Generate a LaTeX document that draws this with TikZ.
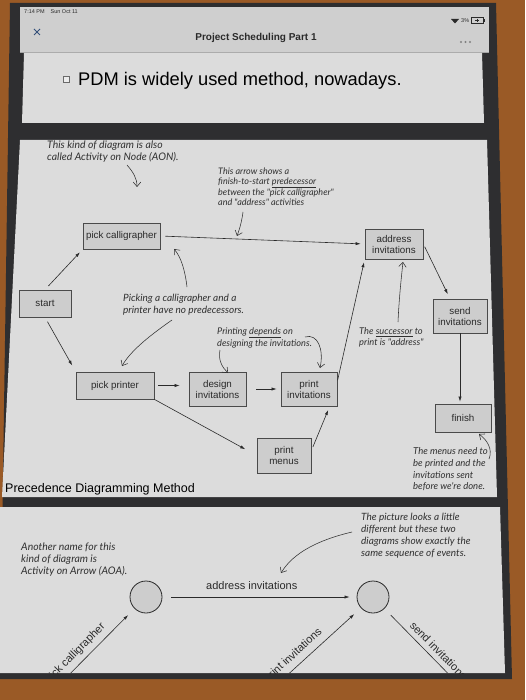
\documentclass[tikz,border=0pt]{standalone}
\usepackage{fontspec}
\setmainfont{Liberation Sans}
\newfontfamily\handfont{Lato}
\usetikzlibrary{arrows.meta}
\definecolor{frame}{HTML}{9A5A26}
\definecolor{bezel}{HTML}{2E2E30}
\definecolor{bar}{HTML}{CFCFCF}
\definecolor{slide}{HTML}{DCDCDC}
\definecolor{boxfill}{HTML}{CDCDCD}
\definecolor{boxline}{HTML}{4A4A4A}
\definecolor{ink}{HTML}{2A2A2A}
\definecolor{pen}{HTML}{303030}
\definecolor{xblue}{HTML}{34507A}
\newcommand{\handsize}[2]{\handfont\itshape\fontsize{#1}{#2}\selectfont}
\begin{document}
\begin{tikzpicture}[x=1pt,y=-1pt,
  box/.style={draw=boxline, fill=boxfill, line width=0.7pt, text=ink, align=center, inner sep=0pt, font=\fontsize{9.8}{11}\selectfont},
  flow/.style={draw=ink, line width=0.6pt, -{Latex[length=5pt,width=3.2pt]}},
  note/.style={text=pen, align=left, inner sep=0pt, anchor=north west},
  pointer/.style={draw=pen, line width=0.55pt, -{Straight Barb[length=4.5pt,width=7.5pt]}},
  event/.style={circle, draw=ink, fill=boxfill, line width=0.8pt, minimum size=32pt, inner sep=0pt},
  actlabel/.style={text=ink, font=\fontsize{11}{13}\selectfont, inner sep=2pt},
]
\useasboundingbox (0,0) rectangle (525,700);
% photo frame and screen
\fill[frame] (0,0) rectangle (525,700);
\fill[bezel] (10,3) -- (496,3) -- (512,679) -- (0,679) -- cycle;
\fill[bar] (20,7) -- (489,7) -- (489,52) -- (20,52) -- cycle;
\draw[gray!70, line width=0.4pt] (20,52) -- (489,52);
\fill[slide] (24,53) -- (482,53) -- (484,123) -- (22,123) -- cycle;
\fill[slide] (20,140) -- (487,140) -- (497,497) -- (2,497) -- cycle;
\fill[slide] (0,507) -- (500,507) -- (505,673) -- (0,673) -- cycle;

% status and navigation bar
\node[anchor=base west, font=\fontsize{5.5}{6}\selectfont, text=ink, inner sep=0pt] (time) at (24,14) {7:14 PM\hspace{6pt}Sun Oct 11};
\fill[ink] (455,23.5) -- (451,19) -- (459,19) -- cycle;
\node[anchor=base west, font=\fontsize{5.5}{6}\selectfont, text=ink, inner sep=0pt] (batt) at (461,22.5) {3\%};
\draw[ink, line width=0.4pt] (471,17.5) rectangle (483,23.5);
\fill[ink] (483.3,19.3) rectangle (484.5,21.7);
\draw[ink, line width=0.4pt] (475,20.5) -- (479,20.5) (477,18.7) -- (477,22.3);
\draw[xblue, line width=0.9pt] (34,29) -- (40,35) (40,29) -- (34,35);
\node[font=\bfseries\fontsize{10}{12}\selectfont, text=ink] (title) at (256,38) {Project Scheduling Part 1};
\fill[gray] (461,42) circle (1.1) (465.5,42) circle (1.1) (470,42) circle (1.1);

% slide 1
\node[draw=ink!70, fill=white!85!gray, minimum size=6pt, inner sep=0pt, line width=0.5pt] (chk) at (66,79) {};
\node[anchor=base west, font=\fontsize{18.3}{22}\selectfont, text=black, inner sep=0pt] (pdm) at (78,86) {PDM is widely used method, nowadays.};

% slide 2: precedence diagram
\node[box, minimum width=52pt, minimum height=27pt] (start) at (45,303.5) {start};
\node[box, minimum width=77pt, minimum height=26pt] (pc) at (121.5,236) {pick calligrapher};
\node[box, minimum width=58pt, minimum height=30pt] (addr) at (394,244) {address\\invitations};
\node[box, minimum width=54pt, minimum height=34pt] (send) at (460,316) {send\\invitations};
\node[box, minimum width=56pt, minimum height=28pt] (fin) at (463,418) {finish};
\node[box, minimum width=78pt, minimum height=27pt] (pp) at (115,385.5) {pick printer};
\node[box, minimum width=57pt, minimum height=34pt] (di) at (217.5,389) {design\\invitations};
\node[box, minimum width=56pt, minimum height=34pt] (pi) at (309,389) {print\\invitations};
\node[box, minimum width=54pt, minimum height=35pt] (pm) at (284,455.5) {print\\menus};

\draw[flow, shorten <=5pt, shorten >=4pt] (start.north) -- (pc.south west);
\draw[flow, shorten <=5pt, shorten >=7pt] (start.south) -- (pp.north west);
\draw[flow, shorten <=5pt, shorten >=4pt] (pc.east) -- (addr.west);
\draw[flow, shorten <=3pt, shorten >=5pt] (addr.east) -- (send.120);
\draw[flow, shorten >=2pt] (send.south) -- (send.south |- fin.north);
\draw[flow, shorten <=4pt, shorten >=9pt] (pp.east) -- (pp.east -| di.west);
\draw[flow, shorten <=10pt, shorten >=4pt] (di.east) -- (pi.west);
\draw[flow, shorten >=13pt] (pp.south east) -- (pm.west);
\draw[flow, shorten <=4pt, shorten >=4pt] (pm.10) -- (pi.-40);
\draw[flow, shorten <=1pt, shorten >=3pt] (pi.15) -- (addr.south west);

% notes on slide 2
\node[note, font=\handsize{10.4}{12}] (nAon) at (47,140.5) {This kind of diagram is also\\called Activity on Node (AON).};
\node[note, font=\handsize{9}{10}] (nFts) at (218,167.5) {This arrow shows a\\finish-to-start \underline{predecessor}\\between the "pick calligrapher"\\and "address" activities};
\node[note, font=\handsize{10}{12}] (nNopred) at (123,293.5) {Picking a calligrapher and a\\printer have no predecessors.};
\node[note, font=\handsize{9.2}{12.5}] (nDep) at (217,327.5) {Printing \underline{depends} on\\designing the invitations.};
\node[note, font=\handsize{9.3}{11}] (nSucc) at (359,327.5) {The \underline{successor} to\\print is "address"};
\node[note, font=\handsize{9.5}{11.7}] (nMenus) at (413,447.5) {The menus need to\\be printed and the\\invitations sent\\before we're done.};

\coordinate (aonA) at (127,165); \coordinate (aonB) at (137,187);
\draw[pointer] (aonA) .. controls (133,172) and (137,178) .. (aonB);
\coordinate (ftsA) at (243,212); \coordinate (ftsB) at (237,236);
\draw[pointer] (ftsA) .. controls (242,220) and (240,228) .. (ftsB);
\coordinate (npA) at (187,287); \coordinate (npB) at (174,249);
\draw[pointer] (npA) .. controls (185,270) and (181,257) .. (npB);
\coordinate (npC) at (172,320); \coordinate (npD) at (122,366);
\draw[pointer] (npC) .. controls (152,334) and (131,350) .. (npD);
\coordinate (dpA) at (220,350); \coordinate (dpB) at (228,373);
\draw[pointer] (dpA) .. controls (218,360) and (222,367) .. (dpB);
\coordinate (dpC) at (305,337); \coordinate (dpD) at (320,368);
\draw[pointer] (dpC) .. controls (318,333) and (324,350) .. (dpD);
\coordinate (scA) at (398,322); \coordinate (scB) at (403,262);
\draw[pointer] (scA) .. controls (399,300) and (401,280) .. (scB);
\coordinate (mnA) at (489,459); \coordinate (mnB) at (479,434);
\draw[pointer] (mnA) .. controls (493,449) and (487,440) .. (mnB);

\node[anchor=base west, font=\fontsize{12.5}{14}\selectfont, text=black, inner sep=0pt] (pdmlbl) at (5,492) {Precedence Diagramming Method};

% slide 3: activity on arrow
\node[note, font=\handsize{10.4}{12}] (nAoa) at (21,542.5) {Another name for this\\kind of diagram is\\Activity on Arrow (AOA).};
\node[note, font=\handsize{10}{12}] (nSame) at (361,512.5) {The picture looks a little\\different but these two\\diagrams show exactly the\\same sequence of events.};
\node[event] (c1) at (146,597) {};
\node[event] (c2) at (373,597) {};
\coordinate (pcStart) at (44,700);
\coordinate (piStart) at (260,700);
\coordinate (sendEnd) at (474,700);
\draw[flow, shorten <=9pt, shorten >=7pt] (c1) -- node[actlabel, pos=0.46, above=5pt] (lblAddr) {address invitations} (c2);
\begin{scope}
\clip (0,507) -- (500,507) -- (505,673) -- (0,673) -- cycle;
\draw[flow, shorten >=9pt] (pcStart) -- node[actlabel, sloped, above=3pt, pos=0.43] (lblPc) {pick calligrapher} (c1);
\draw[flow, shorten >=9pt] (piStart) -- node[actlabel, sloped, above=3pt, pos=0.40] (lblPi) {print invitations} (c2);
\draw[flow, shorten <=9pt] (c2) -- node[actlabel, sloped, above=3pt, pos=0.53] (lblSend) {send invitations} (sendEnd);
\end{scope}
\coordinate (smA) at (352,532); \coordinate (smB) at (281,573);
\draw[pointer] (smA) .. controls (318,540) and (293,553) .. (smB);
\end{tikzpicture}
\end{document}
